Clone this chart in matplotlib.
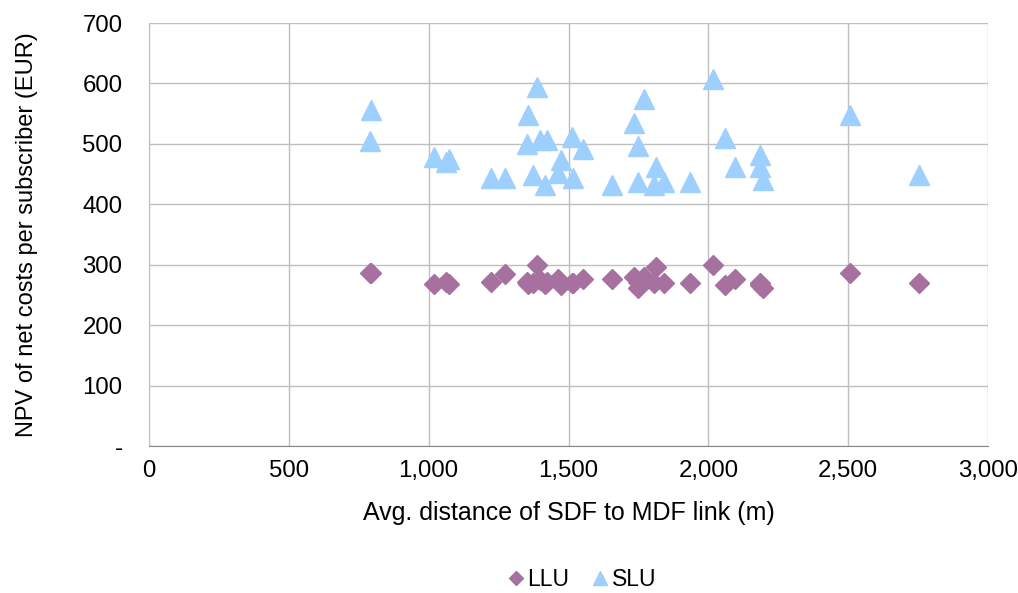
import matplotlib
matplotlib.use("Agg")
import matplotlib.pyplot as plt
from matplotlib.ticker import FuncFormatter, MultipleLocator

plt.rcParams['font.family'] = ['Liberation Sans', 'DejaVu Sans']

# Avg. distance of SDF to MDF link (m)
distance = [794, 790, 1020, 1062, 1071, 1223, 1273, 1389, 1356, 1350, 1398, 1424,
            1374, 1416, 1473, 1464, 1517, 1512, 1553, 1655, 1770, 1734, 1750, 1750,
            1813, 1804, 1840, 1933, 2018, 2060, 2096, 2183, 2183, 2197, 2507, 2752]
# NPV of net costs per subscriber (EUR)
llu = [286, 287, 268, 271, 268, 271, 284, 300, 268, 272, 275, 272,
       270, 268, 266, 277, 269, 270, 276, 277, 280, 280, 261, 272,
       297, 269, 269, 269, 300, 266, 277, 270, 266, 262, 286, 269]
slu = [556, 505, 479, 470, 475, 443, 443, 594, 548, 500, 506, 506,
       448, 432, 473, 451, 443, 511, 491, 432, 575, 534, 497, 437,
       462, 432, 437, 437, 608, 509, 462, 481, 461, 440, 548, 448]

llu_color = "#A6719F"
slu_color = "#9DCFFF"
grid_color = "#BFBFBF"

fig = plt.figure(figsize=(10.18, 5.93), dpi=100)
ax = fig.add_axes([149/1018, 1-446/593, (988-149)/1018, (446-23)/593])

ax.plot(distance, llu, linestyle='none', marker='D', markersize=10.5,
        color=llu_color, label='LLU', zorder=3)
ax.plot(distance, slu, linestyle='none', marker='^', markersize=14,
        color=slu_color, label='SLU', zorder=3)

ax.set_xlim(0, 3000)
ax.set_ylim(0, 700)
ax.xaxis.set_major_locator(MultipleLocator(500))
ax.yaxis.set_major_locator(MultipleLocator(100))
ax.xaxis.set_major_formatter(FuncFormatter(lambda v, p: f"{int(v):,}"))
ax.yaxis.set_major_formatter(FuncFormatter(lambda v, p: "-" if v == 0 else f"{int(v)}"))

ax.grid(True, color=grid_color, linewidth=1.0)
ax.set_axisbelow(True)
for side in ['top', 'right']:
    ax.spines[side].set_visible(False)
ax.spines['left'].set_color(grid_color)
ax.spines['bottom'].set_color('#888888')
ax.tick_params(axis='both', length=0, labelsize=17.3, colors='black')
ax.tick_params(axis='x', pad=10)
ax.tick_params(axis='y', pad=19)

ax.set_xlabel("Avg. distance of SDF to MDF link (m)", fontsize=18, labelpad=14)
ax.set_ylabel("NPV of net costs per subscriber (EUR)", fontsize=17, labelpad=32)

fig.legend(loc='center', bbox_to_anchor=(582/1018, 1-580/593), ncol=2, frameon=False,
           fontsize=16.5, handlelength=0.7, handletextpad=0.15, columnspacing=1.0,
           markerscale=0.7)

fig.savefig("out.png", dpi=100)
